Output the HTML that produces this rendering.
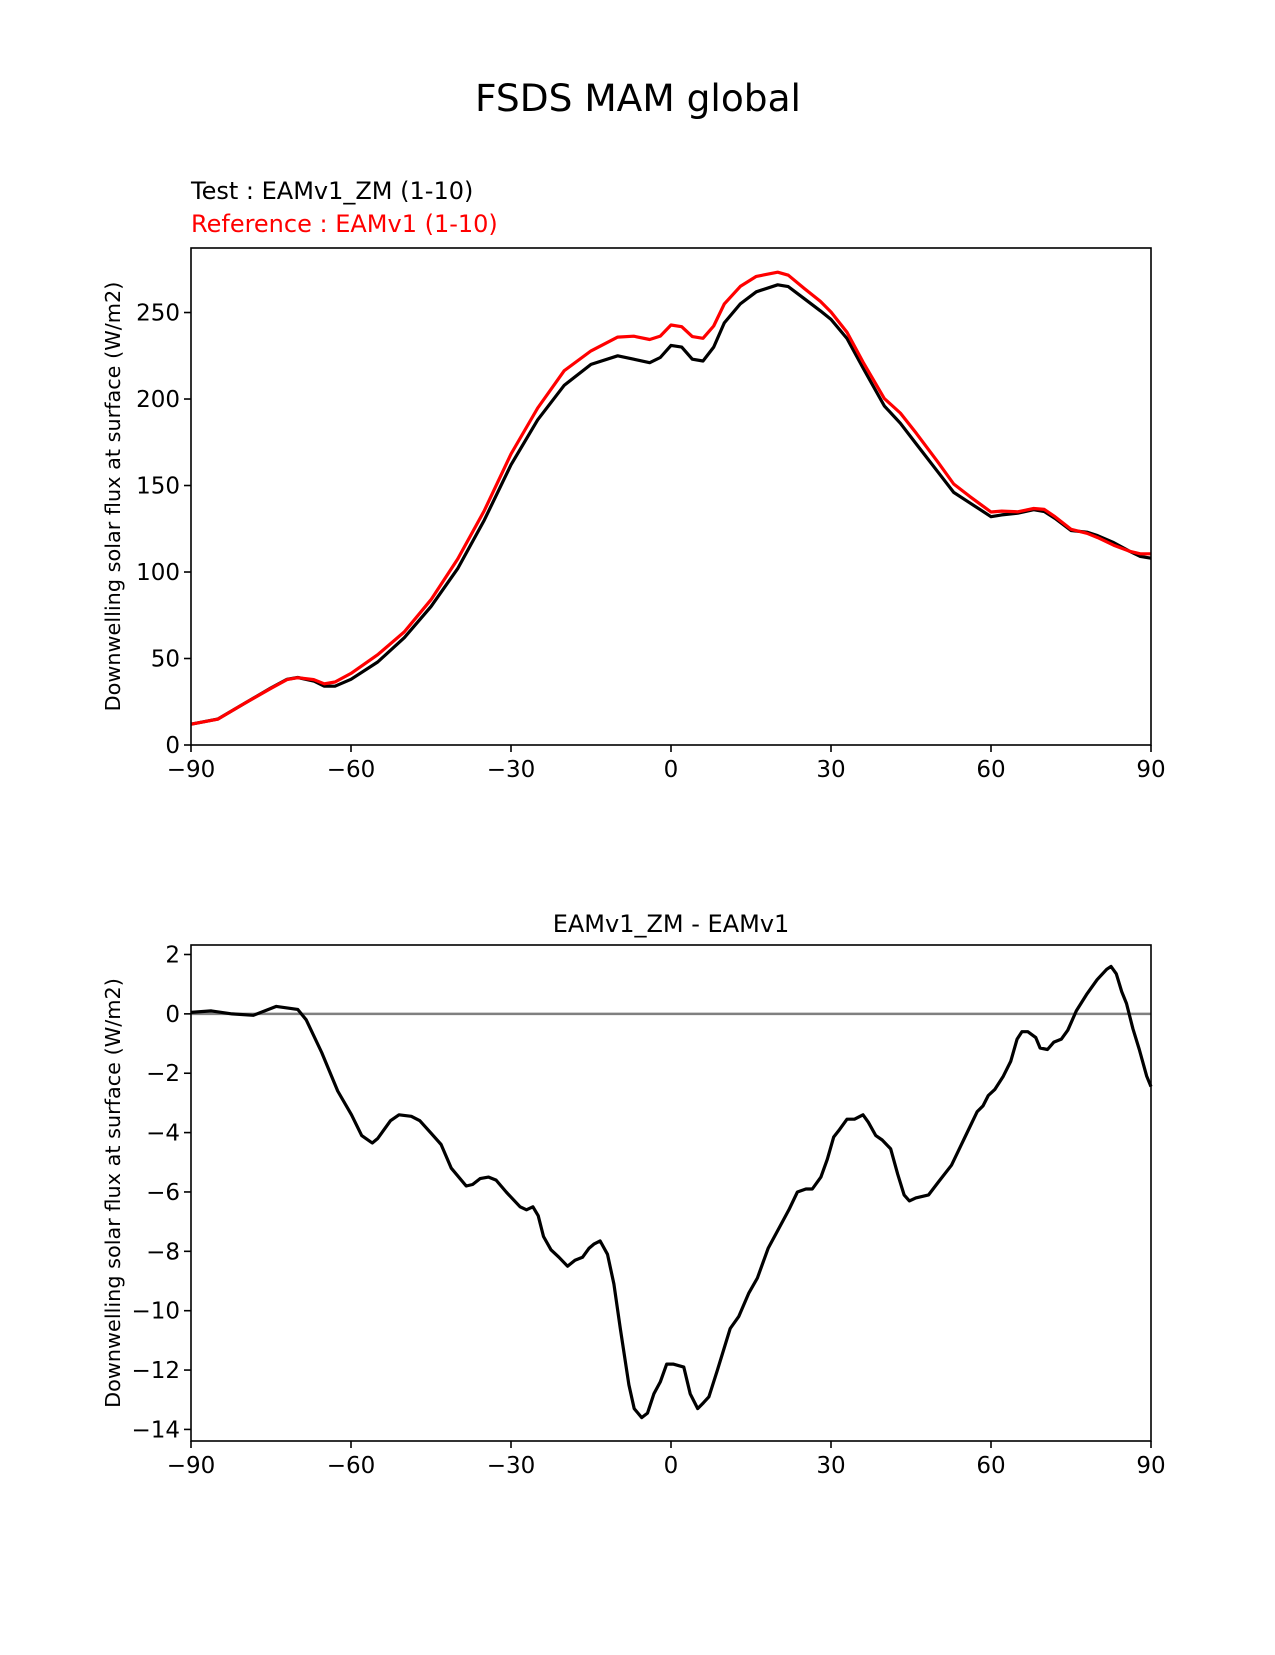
<!DOCTYPE html>
<html><head><meta charset="utf-8"><style>
body{margin:0;background:#fff}
svg text{font-family:"DejaVu Sans","Liberation Sans",sans-serif}
</style></head><body>
<svg id="fig" width="1275" height="1650" viewBox="0 0 1275 1650" xmlns="http://www.w3.org/2000/svg">
<rect width="1275" height="1650" fill="#fff"/>
<text x="638" y="111" font-size="37.5" text-anchor="middle">FSDS MAM global</text>
<text x="191" y="199" font-size="24">Test : EAMv1_ZM (1-10)</text>
<text x="191" y="232" font-size="24" fill="#ff0000">Reference : EAMv1 (1-10)</text>
<text x="671" y="932" font-size="24" text-anchor="middle">EAMv1_ZM - EAMv1</text>
<g id="topg"></g>
<g id="botg"></g>
</svg>
<script>
const topLats=[-90,-85,-80,-75,-72,-70,-67,-65,-63,-60,-55,-50,-45,-40,-35,-30,-25,-20,-15,-10,-7,-4,-2,0,2,4,6,8,10,13,16,20,22,25,28,30,33,36,40,43,46,50,53,56,58,60,62,65,68,70,72,75,78,80,83,86,88,90];
const testVals=[12,15,24,33,38,39,37,34,34,38,48,62,80,102,130,162,188,208,220,225,223,221,224,231,230,223,222,230,244,255,262,266,265,258,251,246,235,218,196,186,174,158,146,140,136,132,133,134,136,135,131,124,123,121,117,112,109,108];
const refVals=[12,14.9,24,32.8,37.8,38.9,37.8,35.4,36.4,41.4,52.2,65.4,84,107.5,135.5,168.2,194.8,216.4,227.8,235.8,236.3,234.4,236.4,242.8,241.8,236.1,235.1,242.2,255,265.1,270.9,273.3,271.6,263.9,256.5,250.3,238.6,221.4,200.3,191.9,180.2,163.7,150.9,143.7,139.2,134.7,135.2,134.8,136.7,136.2,132,124.7,122.4,119.9,115.5,112,110.5,110.5];
const diffLats=[-90,-86.2,-82.3,-78.3,-74,-70,-68.4,-65.5,-62.5,-59.9,-58,-56,-55,-52.6,-51,-48.7,-47.1,-45.1,-43.1,-41.2,-38.4,-37.2,-35.8,-34.2,-32.8,-30.9,-28.3,-27.1,-25.9,-24.9,-23.9,-22.5,-21,-19.4,-18,-16.6,-15.4,-14.4,-13.3,-11.9,-10.7,-9.5,-7.9,-6.9,-5.5,-4.4,-3.2,-2,-0.8,0.4,2.4,3.6,5,6.1,7.1,8.7,11.1,12.7,14.6,16.2,18.2,20.6,22.1,23.7,25.3,26.5,28.1,29.3,30.5,31.6,33,34.4,36,37,38.4,39.6,41.2,42.5,43.7,44.7,45.9,48.3,50.2,52.6,55,57.4,58.5,59.5,60.7,62.3,63.7,64.9,65.8,66.9,68.4,69.2,70.6,71.8,73.2,74.4,76,77.9,79.9,81.7,82.5,83.5,84.5,85.4,86.6,87.8,89.2,90];
const diffVals=[0.05,0.1,0,-0.05,0.25,0.15,-0.2,-1.3,-2.6,-3.4,-4.1,-4.35,-4.2,-3.6,-3.4,-3.45,-3.6,-4,-4.4,-5.2,-5.8,-5.75,-5.55,-5.5,-5.6,-6,-6.5,-6.6,-6.5,-6.8,-7.5,-7.95,-8.2,-8.5,-8.3,-8.2,-7.9,-7.75,-7.65,-8.1,-9.1,-10.6,-12.5,-13.3,-13.6,-13.45,-12.8,-12.4,-11.8,-11.8,-11.9,-12.8,-13.3,-13.1,-12.9,-12,-10.6,-10.2,-9.4,-8.9,-7.9,-7.1,-6.6,-6,-5.9,-5.9,-5.5,-4.9,-4.15,-3.9,-3.55,-3.55,-3.4,-3.65,-4.1,-4.25,-4.55,-5.4,-6.1,-6.3,-6.2,-6.1,-5.65,-5.1,-4.2,-3.3,-3.1,-2.75,-2.55,-2.1,-1.6,-0.85,-0.6,-0.6,-0.8,-1.15,-1.2,-0.95,-0.85,-0.55,0.1,0.65,1.15,1.5,1.6,1.35,0.75,0.35,-0.5,-1.2,-2.1,-2.45];
const xTicks=[-90,-60,-30,0,30,60,90];
const xTickLabels=["\u221290","\u221260","\u221230","0","30","60","90"];
const topYTicks=[0,50,100,150,200,250];
const botYTicks=[2,0,-2,-4,-6,-8,-10,-12,-14];
const NS="http://www.w3.org/2000/svg";
function mk(parent,tag,attrs){const e=document.createElementNS(NS,tag);for(const k in attrs)e.setAttribute(k,attrs[k]);parent.appendChild(e);return e;}
function drawAxes(g,box,ymin,ymax,yticks,name){
  const sx=v=>box.l+(v+90)/180*(box.r-box.l);
  const sy=v=>box.b-(v-ymin)/(ymax-ymin)*(box.b-box.t);
  xTicks.forEach((v,i)=>{
    const t=mk(g,'line',{x1:sx(v),x2:sx(v),y1:box.b,y2:box.b+7,stroke:'#000','stroke-width':1.6});
    
    
    const tx=mk(g,'text',{x:sx(v),y:box.b+32,'font-size':23,'text-anchor':'middle'});
    tx.textContent=xTickLabels[i];
    
    
  });
  yticks.forEach(v=>{
    const t=mk(g,'line',{x1:box.l-7,x2:box.l,y1:sy(v),y2:sy(v),stroke:'#000','stroke-width':1.6});
    
    
    const tx=mk(g,'text',{x:box.l-11,y:sy(v)+8,'font-size':23,'text-anchor':'end'});
    tx.textContent=v<0?'\u2212'+Math.abs(v):String(v);
    
    
  });
  const yl=mk(g,'text',{x:0,y:0,'font-size':20.8,'text-anchor':'middle',transform:`translate(120,${(box.t+box.b)/2}) rotate(-90)`});
  yl.textContent='Downwelling solar flux at surface (W/m2)';
  
  
  return {sx,sy};
}
function line(g,xs,ys,sx,sy,color,w,name){
  const d=xs.map((x,i)=>(i?'L':'M')+sx(x).toFixed(1)+','+sy(ys[i]).toFixed(1)).join('');
  const p=mk(g,'path',{d,fill:'none',stroke:color,'stroke-width':w,'stroke-linejoin':'round'});
  
  
}
function frame(g,box,name){
  const r=mk(g,'rect',{x:box.l,y:box.t,width:box.r-box.l,height:box.b-box.t,fill:'none',stroke:'#000','stroke-width':1.6});
  
  
}
const topG=document.getElementById('topg');
const tb={l:191,r:1151,t:248,b:745};
const ta=drawAxes(topG,tb,0,287.3,topYTicks,'top');
line(topG,topLats,testVals,ta.sx,ta.sy,'#000',3.2,'test-line');
line(topG,topLats,refVals,ta.sx,ta.sy,'#ff0000',3.2,'reference-line');
frame(topG,tb,'top');
const botG=document.getElementById('botg');
const bb={l:191,r:1151,t:945,b:1441};
const ba=drawAxes(botG,bb,-14.39,2.32,botYTicks,'diff');
const z=mk(botG,'line',{x1:bb.l,x2:bb.r,y1:ba.sy(0),y2:ba.sy(0),stroke:'#808080','stroke-width':2.4});


line(botG,diffLats,diffVals,ba.sx,ba.sy,'#000',3.2,'difference-line');
frame(botG,bb,'diff');
</script>
</body></html>
